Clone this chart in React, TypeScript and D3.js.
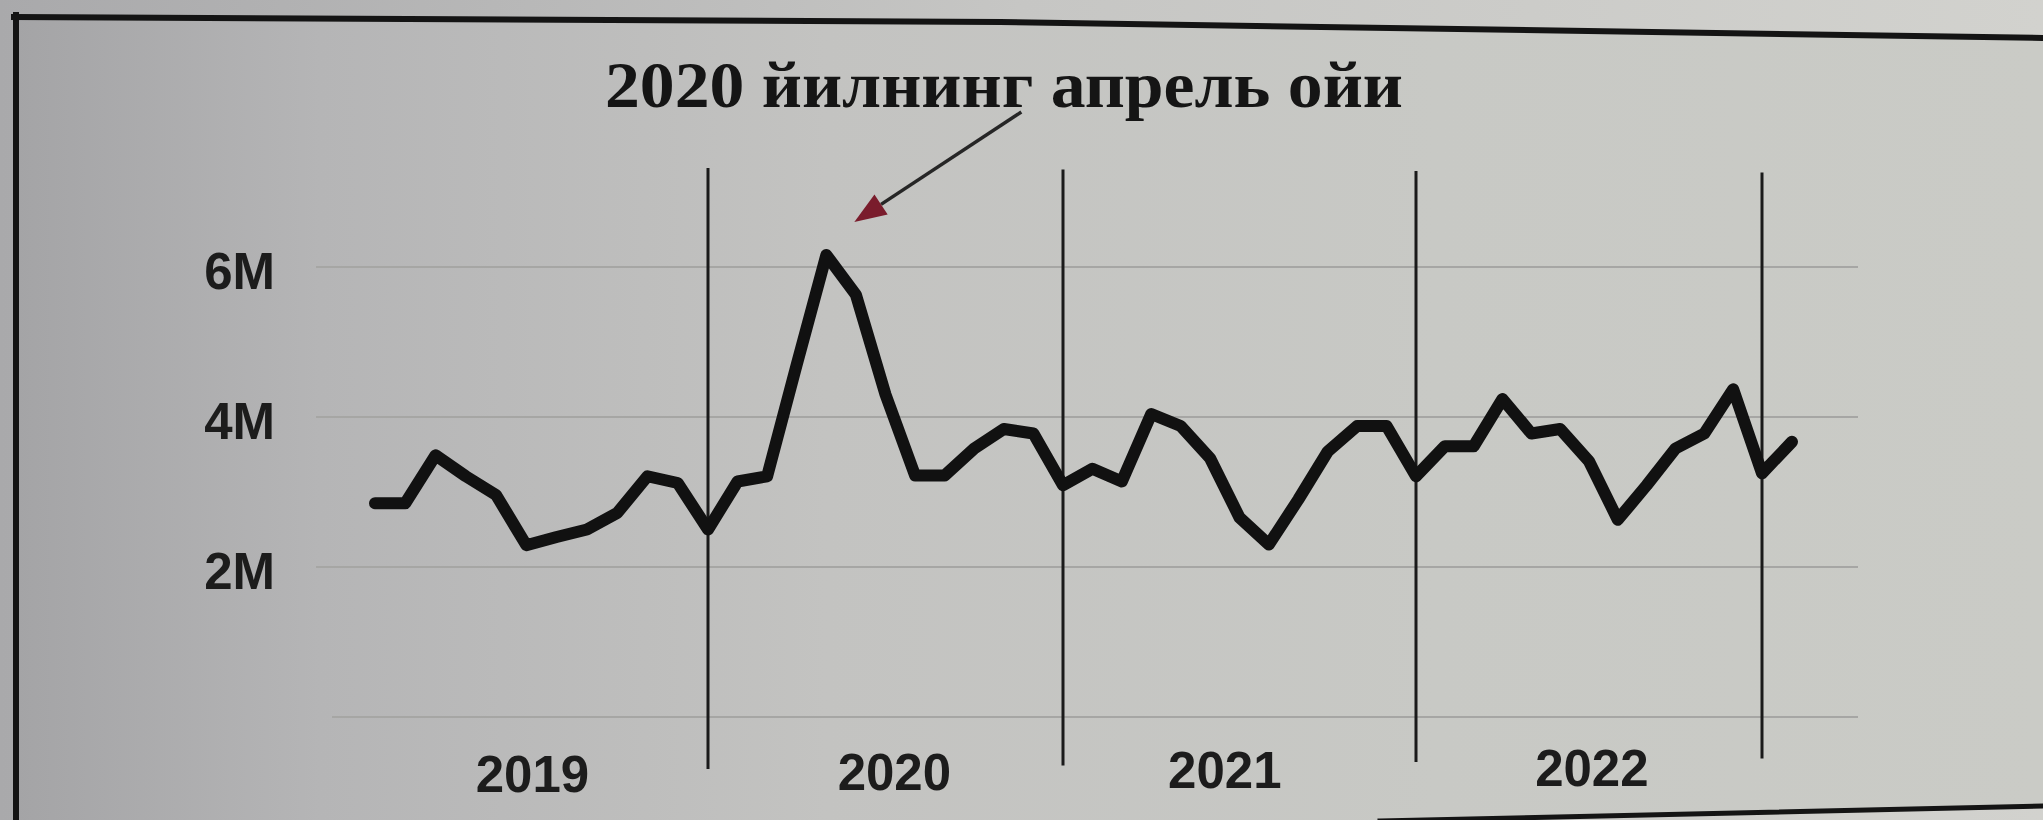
import * as d3 from 'd3';

// monthly values, Jan 2019 .. Jan 2023 (millions)
const months: string[] = [];
for (const yr of [2019, 2020, 2021, 2022]) {
  for (let m = 1; m <= 12; m++) months.push(`${yr}-${String(m).padStart(2, '0')}`);
}
months.push('2023-01');

const values2019 = [2.85, 2.85, 3.49, 3.21, 2.96, 2.29, 2.4, 2.5, 2.72, 3.21, 3.12, 2.5];
const values2020 = [3.14, 3.21, 4.7, 6.16, 5.63, 4.3, 3.22, 3.22, 3.58, 3.84, 3.78, 3.09];
const values2021 = [3.31, 3.14, 4.04, 3.88, 3.45, 2.66, 2.3, 2.9, 3.54, 3.88, 3.88, 3.21];
const values2022 = [3.61, 3.61, 4.24, 3.78, 3.84, 3.41, 2.63, 3.09, 3.58, 3.78, 4.37, 3.25];
const values2023 = [3.67];
const values = [...values2019, ...values2020, ...values2021, ...values2022, ...values2023].map((v) => v * 1e6);

const yTicks = [0, 2e6, 4e6, 6e6];
const yTickLabels = ['', '2M', '4M', '6M'];

// year separators sit on the December points
const separatorMonths = ['2019-12', '2020-12', '2021-12', '2022-12'];
const yearLabels = ['2019', '2020', '2021', '2022'];
// label centres as (fractional) month index
const yearLabelPos = [5.2, 17.3, 28.5, 41.1];

const annotationText = '2020 йилнинг апрель ойи';
const annotationMonth = '2020-04';

const W = 2043;
const H = 820;

export default function App() {
  // photo is slightly in perspective, so the month step shrinks a little to the right
  const x = d3
    .scaleLinear()
    .domain([0, 11, 23, 35, 47, 48])
    .range([375, 708, 1063, 1416, 1762, 1792]);
  const y = d3.scaleLinear().domain([0, 6e6]).range([717, 267]);

  const line = d3
    .line<number>()
    .x((_, i) => x(i))
    .y((d) => y(d));

  const peakIdx = months.indexOf(annotationMonth);
  const tipX = x(peakIdx) + 28;
  const tipY = y(values[peakIdx]) - 33;
  const startX = tipX + 167;
  const startY = tipY - 110;
  const len = Math.hypot(startX - tipX, startY - tipY);
  const ux = (startX - tipX) / len;
  const uy = (startY - tipY) / len;
  const headLen = 32;
  const headW = 12;
  const bx = tipX + ux * headLen;
  const by = tipY + uy * headLen;
  const head = [
    [tipX, tipY],
    [bx - uy * headW, by + ux * headW],
    [bx + uy * headW, by - ux * headW],
  ]
    .map((p) => p.join(','))
    .join(' ');

  return (
    <svg
      width={W}
      height={H}
      style={{ position: 'absolute', left: 0, top: 0, display: 'block' }}
    >
      <defs>
        <linearGradient id="outer" x1="0" x2="1" y1="0" y2="0">
          <stop offset="0" stopColor="#a9a9ab" />
          <stop offset="0.5" stopColor="#c6c6c4" />
          <stop offset="1" stopColor="#d2d2ce" />
        </linearGradient>
        <linearGradient id="inner" x1="0" x2="1" y1="0" y2="0">
          <stop offset="0" stopColor="#a4a4a6" />
          <stop offset="0.15" stopColor="#b5b5b6" />
          <stop offset="0.4" stopColor="#c3c3c1" />
          <stop offset="0.7" stopColor="#c8c9c5" />
          <stop offset="1" stopColor="#cacbc6" />
        </linearGradient>
      </defs>

      <rect x={0} y={0} width={W} height={H} fill="url(#outer)" />
      <polygon points={`16,17 1000,22 2043,38 2043,806 1380,820 16,820`} fill="url(#inner)" />

      {/* frame */}
      <g stroke="#141414" fill="none" strokeLinecap="square">
        <line x1={16} y1={15} x2={16} y2={H} strokeWidth={6} />
        <polyline points="14,17 1000,22 2043,38" strokeWidth={6} />
        <line x1={1380} y1={821} x2={2043} y2={806} strokeWidth={5} />
      </g>

      {/* gridlines */}
      <g>
        {yTicks.map((t) => (
          <line
            key={t}
            x1={t === 0 ? 332 : 316}
            x2={1858}
            y1={y(t)}
            y2={y(t)}
            stroke="#a6a6a4"
            strokeWidth={2}
          />
        ))}
      </g>

      {/* y labels */}
      <g
        fontFamily="'Liberation Sans', Arial, sans-serif"
        fontWeight={700}
        fontSize={51}
        fill="#1c1c1c"
        textAnchor="end"
      >
        {yTicks.map((t, i) =>
          yTickLabels[i] ? (
            <text key={t} x={275} y={y(t) + 4} dominantBaseline="central">
              {yTickLabels[i]}
            </text>
          ) : null
        )}
      </g>

      {/* year separators */}
      <g stroke="#1a1a1a" strokeWidth={3}>
        {separatorMonths.map((m, i) => {
          const xi = x(months.indexOf(m));
          return <line key={m} x1={xi} x2={xi} y1={168 + i * 1.5} y2={769 - i * 3.5} />;
        })}
      </g>

      {/* year labels */}
      <g
        fontFamily="'Liberation Sans', Arial, sans-serif"
        fontWeight={700}
        fontSize={51}
        fill="#1c1c1c"
        textAnchor="middle"
      >
        {yearLabels.map((lab, i) => (
          <text key={lab} x={x(yearLabelPos[i])} y={792 - i * 2}>
            {lab}
          </text>
        ))}
      </g>

      {/* series */}
      <path
        d={line(values) ?? ''}
        fill="none"
        stroke="#111"
        strokeWidth={12}
        strokeLinejoin="round"
        strokeLinecap="round"
      />

      {/* annotation */}
      <text
        x={605}
        y={107}
        fontFamily="'Liberation Serif', 'Times New Roman', serif"
        fontWeight={700}
        fontSize={66}
        fill="#151515"
        textLength={798}
        lengthAdjust="spacingAndGlyphs"
      >
        {annotationText}
      </text>
      <line x1={startX} y1={startY} x2={bx} y2={by} stroke="#262626" strokeWidth={3.5} />
      <polygon points={head} fill="#7a1c2c" />
    </svg>
  );
}
